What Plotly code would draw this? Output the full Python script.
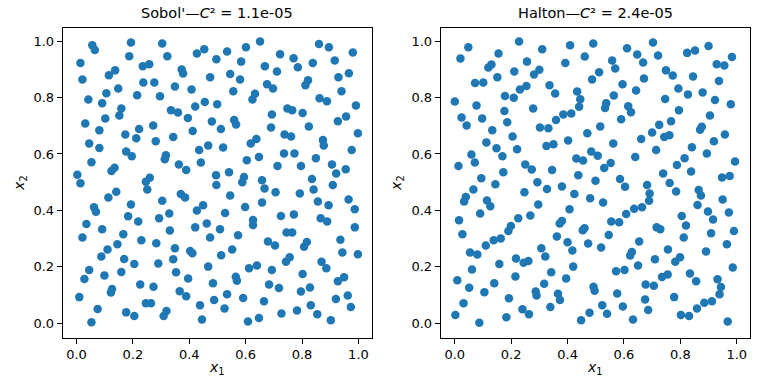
import plotly.graph_objects as go

# ---- data ----
sobol_x = [
    0.056,0.065,0.193,0.304,0.187,0.322,0.014,0.235,0.258,0.427,0.453,0.496,0.021,0.115,0.137,0.373,0.378,0.237,0.276,0.474,0.349,0.408,0.148,0.106,0.215,0.296,0.042,0.091,0.159,0.152,0.335,0.360,0.421,0.455,0.499,0.102,0.395,0.031,0.480,0.272,0.081,0.222,0.412,0.173,0.212,0.343,0.281,0.045,0.081,0.467,0.435,0.176,0.196,0.317,0.313,0.053,0.363,0.389,0.441,0.124,0.135,0.003,0.246,0.260,0.495,
    0.534,0.601,0.651,0.584,0.722,0.770,0.785,0.838,0.860,0.895,0.916,0.980,0.668,0.711,0.545,0.580,0.676,0.697,0.821,0.812,0.929,0.966,0.556,0.633,0.624,0.940,0.862,0.888,0.991,0.748,0.765,0.802,0.693,0.559,0.566,0.690,0.824,0.927,0.956,0.512,0.998,0.738,0.761,0.874,0.877,0.638,0.618,0.520,0.976,0.604,0.647,0.736,0.773,0.849,0.713,0.796,0.906,0.955,0.921,0.541,0.594,0.588,0.658,0.835,
    0.014,0.251,0.496,0.113,0.141,0.062,0.069,0.193,0.304,0.370,0.385,0.427,0.449,0.183,0.219,0.293,0.329,0.035,0.091,0.021,0.166,0.230,0.283,0.331,0.421,0.462,0.474,0.145,0.110,0.088,0.349,0.403,0.411,0.169,0.205,0.290,0.343,0.045,0.028,0.099,0.159,0.353,0.396,0.467,0.226,0.273,0.126,0.122,0.484,0.366,0.389,0.010,0.488,0.246,0.264,0.075,0.176,0.205,0.319,0.309,0.438,0.053,0.445,
    0.667,0.706,0.792,0.841,0.909,0.545,0.658,0.598,0.527,0.856,0.894,0.965,0.987,0.626,0.626,0.725,0.771,0.866,0.889,0.509,0.573,0.745,0.765,0.987,0.679,0.704,0.817,0.807,0.936,0.552,0.513,0.943,0.998,0.756,0.743,0.869,0.886,0.612,0.640,0.693,0.802,0.565,0.569,0.949,0.927,0.683,0.718,0.796,0.828,0.534,0.591,0.665,0.525,0.727,0.782,0.831,0.854,0.920,0.962,0.973,0.608,0.647,0.902,
]
sobol_y = [
    0.985,0.968,0.995,0.991,0.946,0.946,0.922,0.911,0.918,0.956,0.971,0.935,0.864,0.879,0.896,0.899,0.885,0.853,0.853,0.872,0.839,0.828,0.832,0.815,0.808,0.804,0.793,0.780,0.761,0.736,0.755,0.747,0.768,0.784,0.776,0.726,0.727,0.708,0.715,0.701,0.684,0.688,0.681,0.669,0.656,0.660,0.645,0.637,0.621,0.630,0.614,0.609,0.592,0.595,0.581,0.571,0.563,0.543,0.570,0.540,0.551,0.526,0.502,0.516,0.525,
    0.963,0.978,0.998,0.927,0.953,0.939,0.907,0.922,0.989,0.978,0.931,0.959,0.911,0.892,0.883,0.864,0.847,0.832,0.861,0.843,0.872,0.886,0.822,0.813,0.793,0.822,0.797,0.787,0.772,0.761,0.755,0.745,0.740,0.720,0.704,0.694,0.697,0.716,0.733,0.688,0.673,0.669,0.662,0.649,0.630,0.653,0.637,0.623,0.614,0.578,0.589,0.602,0.602,0.585,0.557,0.557,0.563,0.546,0.531,0.535,0.518,0.500,0.507,0.511,
    0.496,0.474,0.490,0.446,0.466,0.411,0.395,0.421,0.434,0.458,0.446,0.400,0.418,0.379,0.361,0.372,0.389,0.352,0.333,0.304,0.316,0.294,0.284,0.329,0.340,0.354,0.304,0.280,0.262,0.237,0.266,0.256,0.248,0.228,0.210,0.212,0.227,0.189,0.157,0.170,0.182,0.181,0.159,0.201,0.138,0.130,0.122,0.109,0.142,0.114,0.096,0.093,0.083,0.071,0.071,0.051,0.039,0.026,0.044,0.026,0.064,0.004,0.014,
    0.478,0.464,0.460,0.474,0.490,0.453,0.428,0.412,0.391,0.432,0.418,0.439,0.404,0.366,0.348,0.380,0.386,0.372,0.361,0.333,0.312,0.322,0.322,0.340,0.290,0.276,0.288,0.271,0.296,0.262,0.241,0.251,0.245,0.234,0.218,0.218,0.195,0.195,0.205,0.189,0.175,0.165,0.151,0.163,0.149,0.138,0.125,0.113,0.127,0.103,0.090,0.078,0.053,0.035,0.046,0.064,0.032,0.086,0.099,0.058,0.007,0.019,0.011,
]
halton_x = [
    0.048,0.020,0.155,0.228,0.310,0.409,0.491,0.461,0.392,0.256,0.119,0.130,0.151,0.211,0.281,0.300,0.487,0.072,0.101,0.231,0.254,0.336,0.356,0.434,0.445,0.441,0.178,0.209,0.000,0.077,0.176,0.278,0.024,0.042,0.097,0.186,0.302,0.332,0.359,0.385,0.413,0.133,0.205,0.112,0.148,0.221,0.325,0.350,0.402,0.470,0.059,0.071,0.169,0.013,0.250,0.273,0.345,0.431,0.455,0.484,0.094,0.172,0.438,0.293,
    0.611,0.647,0.703,0.721,0.668,0.558,0.569,0.512,0.595,0.643,0.671,0.749,0.773,0.824,0.852,0.900,0.983,0.929,0.956,0.845,0.937,0.564,0.537,0.533,0.615,0.625,0.746,0.793,0.827,0.879,0.923,0.979,0.795,0.590,0.516,0.767,0.725,0.700,0.743,0.761,0.661,0.905,0.876,0.870,0.958,0.919,0.562,0.714,0.841,0.894,0.640,0.507,0.553,0.530,0.815,0.788,0.838,0.739,0.994,0.948,0.975,0.499,0.586,
    0.144,0.380,0.066,0.039,0.033,0.114,0.126,0.247,0.327,0.424,0.480,0.296,0.407,0.090,0.015,0.027,0.225,0.268,0.199,0.190,0.372,0.380,0.454,0.460,0.362,0.400,0.473,0.163,0.138,0.110,0.054,0.080,0.307,0.321,0.417,0.217,0.244,0.261,0.158,0.061,0.420,0.342,0.215,0.395,0.009,0.051,0.140,0.317,0.287,0.290,0.105,0.192,0.366,0.373,0.492,0.496,0.031,0.002,0.087,0.183,0.240,0.263,0.339,0.478,0.448,
    0.604,0.682,0.762,0.785,0.691,0.689,0.526,0.636,0.664,0.608,0.555,0.583,0.865,0.873,0.861,0.950,0.972,0.898,0.916,0.805,0.820,0.716,0.729,0.546,0.909,0.990,0.812,0.654,0.519,0.756,0.965,0.891,0.628,0.622,0.710,0.799,0.782,0.650,0.572,0.602,0.986,0.834,0.856,0.755,0.735,0.677,0.706,0.932,0.944,0.939,0.576,0.675,0.778,0.912,0.885,0.523,0.540,0.596,0.686,0.859,0.802,0.831,0.632,0.968,
]
halton_y = [
    0.978,0.938,0.956,0.998,0.971,0.985,0.991,0.945,0.922,0.927,0.906,0.917,0.872,0.892,0.881,0.898,0.864,0.851,0.853,0.828,0.841,0.843,0.814,0.821,0.794,0.767,0.805,0.799,0.786,0.772,0.752,0.761,0.729,0.701,0.726,0.712,0.694,0.691,0.720,0.740,0.743,0.684,0.662,0.641,0.620,0.617,0.628,0.634,0.648,0.673,0.598,0.570,0.592,0.557,0.563,0.545,0.543,0.584,0.577,0.609,0.514,0.535,0.525,0.500,
    0.974,0.952,0.995,0.949,0.924,0.931,0.903,0.889,0.847,0.825,0.867,0.896,0.878,0.958,0.966,0.982,0.943,0.918,0.913,0.874,0.858,0.807,0.780,0.763,0.769,0.748,0.795,0.832,0.811,0.818,0.791,0.776,0.755,0.723,0.697,0.716,0.703,0.676,0.660,0.666,0.653,0.736,0.696,0.686,0.669,0.645,0.637,0.614,0.624,0.602,0.589,0.594,0.568,0.550,0.585,0.561,0.538,0.531,0.573,0.517,0.522,0.505,0.511,
    0.493,0.485,0.474,0.448,0.432,0.435,0.415,0.464,0.476,0.458,0.443,0.421,0.404,0.389,0.365,0.316,0.372,0.382,0.345,0.327,0.354,0.363,0.330,0.337,0.308,0.287,0.283,0.301,0.294,0.276,0.251,0.244,0.266,0.237,0.258,0.230,0.215,0.221,0.210,0.191,0.201,0.181,0.166,0.159,0.153,0.126,0.142,0.140,0.113,0.099,0.110,0.089,0.105,0.083,0.130,0.116,0.071,0.030,0.002,0.022,0.050,0.032,0.058,0.038,0.011,
    0.484,0.490,0.497,0.467,0.460,0.434,0.428,0.406,0.411,0.387,0.361,0.358,0.472,0.453,0.419,0.439,0.393,0.396,0.368,0.380,0.347,0.340,0.333,0.313,0.319,0.327,0.304,0.290,0.269,0.262,0.280,0.255,0.253,0.240,0.227,0.234,0.218,0.205,0.185,0.189,0.198,0.177,0.149,0.173,0.164,0.138,0.133,0.156,0.129,0.103,0.106,0.085,0.093,0.078,0.073,0.064,0.034,0.060,0.047,0.053,0.030,0.026,0.014,0.007,
]
assert len(sobol_x) == len(sobol_y), (len(sobol_x), len(sobol_y))
assert len(halton_x) == len(halton_y), (len(halton_x), len(halton_y))

titles = ["Sobol'—<i>C</i>² = 1.1e-05", "Halton—<i>C</i>² = 2.4e-05"]
tick_vals = [0.0, 0.2, 0.4, 0.6, 0.8, 1.0]
tick_text = ["0.0", "0.2", "0.4", "0.6", "0.8", "1.0"]

W, H = 768, 384
BLUE = "#1f77b4"
FONT = "DejaVu Sans"


def px_x(p):
    return p / W


def px_y(p):
    return 1 - p / H


fig = go.Figure()
fig.add_trace(go.Scatter(x=sobol_x, y=sobol_y, mode="markers", xaxis="x", yaxis="y",
                         marker=dict(color=BLUE, size=8.5, line=dict(width=0)), showlegend=False))
fig.add_trace(go.Scatter(x=halton_x, y=halton_y, mode="markers", xaxis="x2", yaxis="y2",
                         marker=dict(color=BLUE, size=8.5, line=dict(width=0)), showlegend=False))

left_dom = [px_x(62.7), px_x(371.7)]
right_dom = [px_x(440.7), px_x(749.7)]
y_dom = [px_y(337.5), px_y(28.3)]

axis_common = dict(showgrid=False, zeroline=False, showline=True, linecolor="black", linewidth=1,
                   mirror=True, ticks="outside", ticklen=5, tickwidth=1, tickcolor="black",
                   tickvals=tick_vals, ticktext=tick_text, automargin=False,
                   tickfont=dict(family=FONT, size=13, color="black"))

fig.update_layout(
    width=W, height=H, margin=dict(l=0, r=0, t=0, b=0),
    plot_bgcolor="white", paper_bgcolor="white",
    xaxis=dict(domain=left_dom, range=[-0.049, 1.047], anchor="y", **axis_common),
    yaxis=dict(domain=y_dom, range=[-0.050, 1.045], anchor="x", **axis_common),
    xaxis2=dict(domain=right_dom, range=[-0.050, 1.046], anchor="y2", **axis_common),
    yaxis2=dict(domain=y_dom, range=[-0.050, 1.045], anchor="x2", **axis_common),
)

annots = []
for dom, title, ylab_x in [(left_dom, titles[0], 20), (right_dom, titles[1], 397)]:
    cx = (dom[0] + dom[1]) / 2
    annots.append(dict(x=cx, y=px_y(13), xref="paper", yref="paper", text=title, showarrow=False,
                       xanchor="center", yanchor="middle", font=dict(family=FONT, size=14.5, color="black")))
    annots.append(dict(x=cx, y=px_y(368), xref="paper", yref="paper", text="<i>x</i><sub>1</sub>",
                       showarrow=False, xanchor="center", yanchor="middle",
                       font=dict(family=FONT, size=14, color="black")))
    annots.append(dict(x=px_x(ylab_x), y=(y_dom[0] + y_dom[1]) / 2, xref="paper", yref="paper",
                       text="<i>x</i><sub>2</sub>", showarrow=False, textangle=-90,
                       xanchor="center", yanchor="middle", font=dict(family=FONT, size=14, color="black")))
fig.update_layout(annotations=annots)

# remove the browser's default 8 px page margin so the 768x384 figure fills the window
fig.write_html("out.html", config={"displayModeBar": False},
               post_script="document.body.style.margin='0';")
